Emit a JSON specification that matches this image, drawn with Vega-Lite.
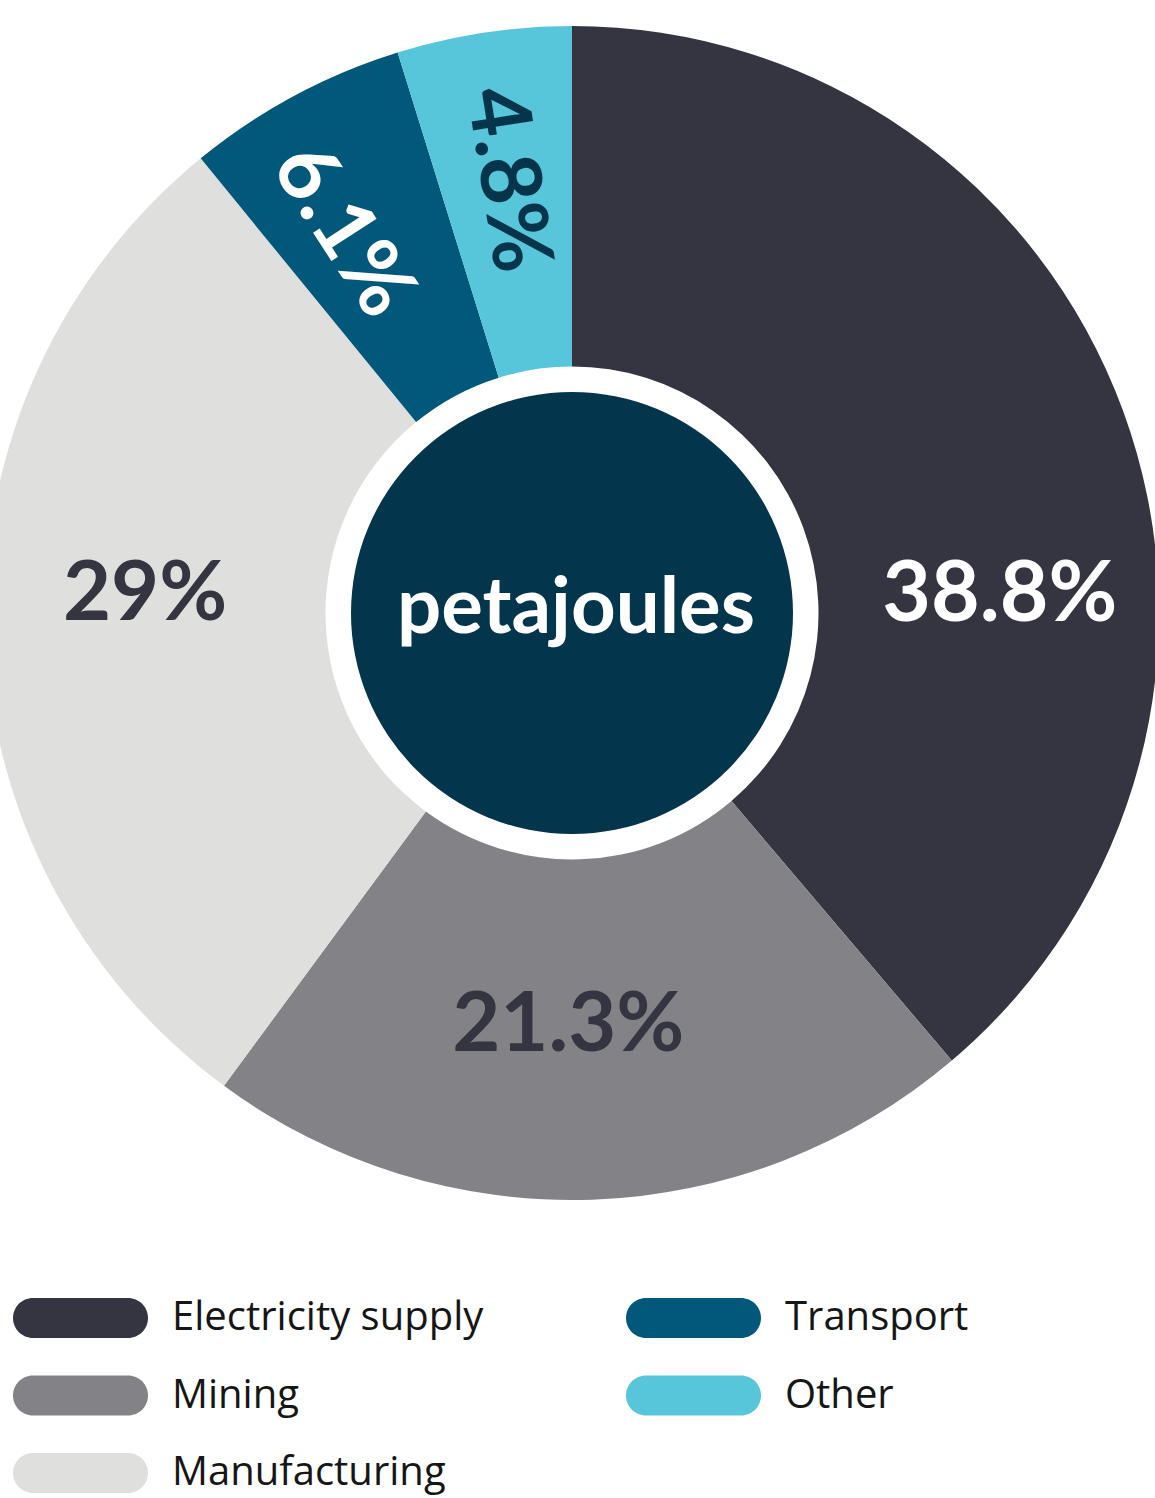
{
  "$schema": "https://vega.github.io/schema/vega-lite/v6.json",
  "autosize": {"type": "none"},
  "padding": {"left": 0, "top": 0, "right": 11, "bottom": 272},
  "width": 1144,
  "height": 1226,
  "background": "#ffffff",
  "config": {"view": {"stroke": null}},
  "layer": [
    {
      "data": {"values": [
        {"sector": "Electricity supply", "pct": 38.8, "label": "38.8%", "rank": 1},
        {"sector": "Mining", "pct": 21.3, "label": "21.3%", "rank": 2},
        {"sector": "Manufacturing", "pct": 29, "label": "29%", "rank": 3},
        {"sector": "Transport", "pct": 6.1, "label": "6.1%", "rank": 4},
        {"sector": "Other", "pct": 4.8, "label": "4.8%", "rank": 5}
      ]},
      "encoding": {
        "theta": {"field": "pct", "type": "quantitative", "stack": true},
        "order": {"field": "rank", "type": "quantitative"},
        "detail": {"field": "sector", "type": "nominal"}
      },
      "layer": [
        {
          "mark": {"type": "arc", "outerRadius": 587, "innerRadius": 246.5, "strokeWidth": 0},
          "encoding": {
            "color": {
              "field": "sector",
              "type": "nominal",
              "scale": {
                "domain": ["Electricity supply", "Mining", "Manufacturing", "Transport", "Other"],
                "range": ["#353541", "#838286", "#dfe0de", "#02587a", "#58c6da"]
              },
              "legend": {
                "orient": "none",
                "legendX": 13,
                "legendY": 1278,
                "columns": 2,
                "title": null,
                "padding": 0,
                "symbolType": "M -0.5 -0.5 L 1.875 -0.5 C 2.151 -0.5 2.375 -0.276 2.375 0 C 2.375 0.276 2.151 0.5 1.875 0.5 L -0.5 0.5 C -0.776 0.5 -1 0.276 -1 0 C -1 -0.276 -0.776 -0.5 -0.5 -0.5 Z",
                "symbolSize": 6400,
                "symbolStrokeWidth": 0,
                "symbolOpacity": 1,
                "labelFont": "Open Sans",
                "labelFontSize": 40,
                "labelColor": "#161616",
                "labelOffset": 79,
                "labelLimit": 700,
                "columnPadding": 142,
                "rowPadding": 17.5
              }
            }
          }
        },
        {
          "mark": {"type": "text", "radius": 428, "dx": 26, "dy": 156, "font": "Lato", "fontWeight": "bold", "fontSize": 84, "color": "#ffffff", "align": "center", "baseline": "alphabetic"},
          "encoding": {"text": {"condition": {"test": "datum.sector === 'Electricity supply'", "field": "label"}, "value": ""}}
        },
        {
          "mark": {"type": "text", "radius": 413, "dx": -18, "dy": 25, "font": "Lato", "fontWeight": "bold", "fontSize": 83, "color": "#353541", "align": "center", "baseline": "alphabetic"},
          "encoding": {"text": {"condition": {"test": "datum.sector === 'Mining'", "field": "label"}, "value": ""}}
        },
        {
          "mark": {"type": "text", "radius": 426, "dx": -1, "dy": -4, "font": "Lato", "fontWeight": "bold", "fontSize": 83, "color": "#353541", "align": "center", "baseline": "alphabetic"},
          "encoding": {"text": {"condition": {"test": "datum.sector === 'Manufacturing'", "field": "label"}, "value": ""}}
        },
        {
          "mark": {"type": "text", "radius": 447, "angle": 57, "dx": 0, "dy": 22, "font": "Lato", "fontWeight": "bold", "fontSize": 84, "color": "#ffffff", "align": "center", "baseline": "middle"},
          "encoding": {"text": {"condition": {"test": "datum.sector === 'Transport'", "field": "label"}, "value": ""}}
        },
        {
          "mark": {"type": "text", "radius": 438, "angle": 81, "dx": 0, "dy": 0, "font": "Lato", "fontWeight": "bold", "fontSize": 84, "color": "#04354b", "align": "center", "baseline": "middle"},
          "encoding": {"text": {"condition": {"test": "datum.sector === 'Other'", "field": "label"}, "value": ""}}
        }
      ]
    },
    {
      "data": {"values": [{"unit": "petajoules"}]},
      "layer": [
        {
          "mark": {"type": "arc", "outerRadius": 221, "innerRadius": 0, "theta": 0, "theta2": 6.2832, "color": "#03364d", "strokeWidth": 0}
        },
        {
          "mark": {"type": "text", "font": "Lato", "fontWeight": "bold", "fontSize": 78, "color": "#ffffff", "align": "center", "baseline": "alphabetic", "dx": 4, "dy": 20},
          "encoding": {"text": {"field": "unit"}}
        }
      ]
    }
  ]
}
